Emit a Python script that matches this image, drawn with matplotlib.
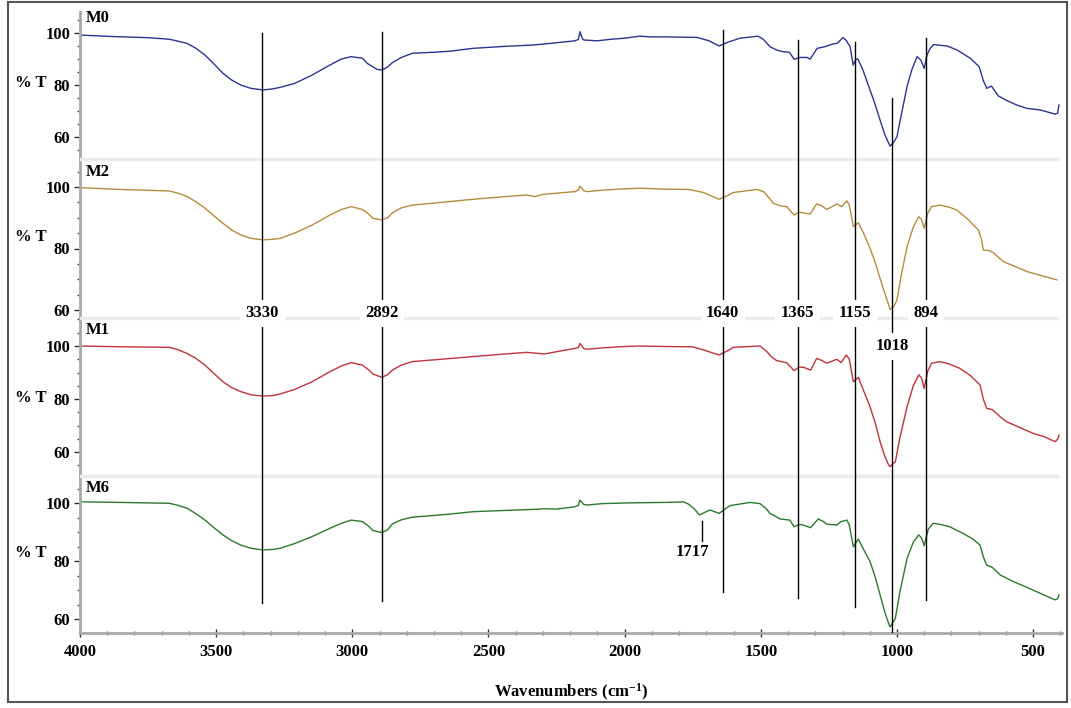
import matplotlib
matplotlib.use('Agg')
import matplotlib.pyplot as plt
from matplotlib.patches import Rectangle
from matplotlib.ticker import MultipleLocator

# ---------------- data ----------------
series_names = ['M0', 'M2', 'M1', 'M6']

wn_m0 = [4000, 3869, 3750, 3672, 3646, 3607, 3574, 3541, 3508, 3475, 3443, 3410, 3372, 3328,
         3292, 3265, 3212, 3148, 3082, 3040, 3004, 2963, 2945, 2909, 2891, 2872, 2853, 2820,
         2780, 2700, 2641, 2557, 2450, 2333, 2274, 2183, 2170, 2164, 2155, 2150, 2100, 2050,
         2000, 1944, 1907, 1850, 1800, 1734, 1690, 1653, 1620, 1576, 1510, 1490, 1466, 1440,
         1418, 1395, 1378, 1356, 1330, 1319, 1293, 1270, 1257, 1235, 1220, 1210, 1198, 1185,
         1180, 1172, 1161, 1150, 1143, 1125, 1110, 1085, 1062, 1045, 1030, 1025, 1012, 1000,
         985, 963, 945, 926, 912, 900, 890, 878, 865, 853, 816, 780, 731, 700, 695, 683, 670,
         653, 628, 596, 560, 522, 474, 419, 410, 405]
t_m0 = [99.2, 98.6, 98.2, 97.6, 97.0, 96.0, 94.1, 91.5, 88.1, 84.5, 81.9, 80.0, 78.7, 78.1,
        78.5, 79.1, 80.6, 83.8, 87.7, 90.0, 90.9, 90.3, 88.3, 86.0, 85.8, 86.8, 88.6, 90.6,
        92.2, 92.6, 93.0, 94.1, 94.8, 95.4, 96.0, 97.0, 97.5, 100.5, 97.8, 97.3, 97.0, 97.6,
        98.0, 98.8, 98.5, 98.5, 98.4, 98.3, 97.0, 95.0, 96.5, 98.0, 98.8, 97.5, 94.7, 93.4,
        92.8, 92.6, 89.9, 90.6, 90.6, 89.9, 94.1, 94.6, 95.0, 95.8, 96.0, 97.0, 98.3, 97.0,
        96.0, 94.8, 87.7, 90.0, 89.9, 85.8, 81.3, 74.0, 66.5, 61.0, 57.5, 56.5, 58.0, 60.1,
        68.0, 79.4, 86.0, 90.9, 89.5, 86.4, 91.5, 94.1, 95.6, 95.4, 95.0, 93.5, 90.3, 87.2,
        86.0, 81.7, 78.7, 79.6, 75.8, 74.0, 72.3, 71.0, 70.4, 68.8, 69.2, 72.3]

wn_m2 = [4000, 3850, 3672, 3640, 3607, 3574, 3541, 3508, 3475, 3443, 3410, 3372, 3328, 3292,
         3265, 3212, 3148, 3082, 3040, 3004, 2963, 2940, 2924, 2891, 2870, 2853, 2820, 2780,
         2650, 2557, 2450, 2360, 2330, 2300, 2183, 2170, 2164, 2150, 2138, 2080, 2000, 1944,
         1850, 1763, 1710, 1653, 1620, 1601, 1515, 1490, 1470, 1454, 1430, 1405, 1378, 1360,
         1344, 1319, 1295, 1275, 1258, 1240, 1221, 1203, 1184, 1175, 1160, 1142, 1120, 1099,
         1080, 1062, 1045, 1030, 1025, 1012, 1000, 985, 963, 940, 920, 910, 900, 887, 873, 843,
         810, 780, 740, 701, 690, 683, 660, 646, 609, 570, 523, 470, 413]
t_m2 = [99.8, 99.2, 98.7, 98.0, 96.9, 95.2, 93.1, 90.6, 88.2, 86.0, 84.4, 83.3, 82.8, 83.0,
        83.3, 85.0, 87.6, 90.9, 92.7, 93.6, 92.7, 91.2, 89.8, 89.3, 90.0, 91.6, 93.2, 94.1,
        95.2, 96.0, 96.8, 97.4, 96.9, 97.6, 98.5, 99.0, 100.3, 98.8, 98.5, 99.0, 99.4, 99.6,
        99.3, 99.2, 98.2, 96.0, 97.3, 98.2, 99.2, 98.5, 96.5, 94.7, 93.9, 93.6, 90.9, 91.8,
        91.6, 91.2, 94.5, 93.8, 92.7, 93.5, 94.5, 93.6, 95.5, 94.1, 87.1, 88.4, 84.5, 80.1,
        75.5, 70.3, 65.5, 61.5, 60.2, 61.0, 63.3, 71.0, 80.6, 87.0, 90.3, 89.5, 86.6, 91.5,
        93.6, 94.1, 93.5, 92.5, 89.5, 86.0, 83.0, 79.5, 79.3, 78.6, 75.7, 74.3, 72.5, 71.2,
        69.8]

wn_m1 = [4000, 3850, 3672, 3640, 3607, 3574, 3541, 3508, 3475, 3443, 3410, 3372, 3328, 3292,
         3265, 3212, 3148, 3082, 3040, 3004, 2963, 2940, 2924, 2891, 2870, 2853, 2820, 2780,
         2650, 2557, 2450, 2360, 2295, 2183, 2170, 2164, 2150, 2138, 2080, 2000, 1944, 1850,
         1751, 1710, 1653, 1620, 1601, 1503, 1478, 1460, 1442, 1420, 1405, 1378, 1360, 1344,
         1317, 1295, 1275, 1258, 1240, 1221, 1205, 1186, 1175, 1160, 1142, 1120, 1099, 1080,
         1062, 1045, 1030, 1025, 1015, 1006, 990, 963, 940, 920, 910, 900, 887, 873, 843, 810,
         770, 730, 695, 683, 671, 650, 621, 597, 550, 499, 460, 419, 410, 405]
t_m1 = [100.0, 99.7, 99.5, 98.6, 97.2, 95.3, 92.8, 89.6, 86.5, 84.3, 82.8, 81.6, 81.1, 81.3,
        81.9, 83.6, 86.5, 90.3, 92.5, 93.7, 92.8, 91.0, 89.4, 88.2, 89.2, 90.9, 92.8, 94.1,
        95.2, 96.0, 96.9, 97.6, 97.0, 99.1, 99.4, 101.0, 99.0, 98.8, 99.3, 99.8, 100.0, 99.8,
        99.7, 98.5, 96.6, 98.3, 99.5, 100.0, 97.9, 95.8, 94.5, 94.0, 93.7, 90.7, 92.0, 92.0,
        90.9, 95.3, 94.5, 93.5, 94.2, 95.0, 93.7, 96.6, 95.0, 86.5, 88.2, 82.5, 77.1, 71.0,
        63.9, 58.5, 55.0, 54.5, 55.5, 56.3, 65.0, 77.1, 85.0, 89.1, 88.0, 84.0, 90.5, 93.5,
        94.1, 93.3, 91.6, 88.8, 85.3, 80.0, 76.5, 76.0, 73.3, 71.4, 69.3, 67.0, 65.8, 63.9,
        64.8, 66.4]

wn_m6 = [4000, 3850, 3672, 3640, 3607, 3574, 3541, 3508, 3475, 3443, 3410, 3372, 3328, 3292,
         3265, 3212, 3148, 3082, 3040, 3004, 2963, 2940, 2924, 2891, 2870, 2853, 2820, 2780,
         2650, 2557, 2450, 2333, 2295, 2250, 2183, 2170, 2164, 2150, 2138, 2080, 2000, 1944,
         1850, 1784, 1765, 1747, 1725, 1705, 1686, 1653, 1630, 1613, 1540, 1503, 1480, 1466,
         1429, 1393, 1378, 1360, 1344, 1317, 1289, 1270, 1258, 1221, 1205, 1184, 1175, 1160,
         1142, 1120, 1099, 1080, 1062, 1045, 1030, 1025, 1015, 1006, 990, 963, 940, 920, 910,
         900, 885, 867, 840, 806, 757, 720, 695, 683, 671, 650, 621, 573, 520, 475, 419, 410,
         405]
t_m6 = [100.4, 100.2, 99.9, 99.2, 98.2, 96.3, 94.1, 91.5, 89.0, 87.0, 85.5, 84.4, 83.8, 84.0,
        84.4, 86.0, 88.4, 91.3, 93.0, 94.1, 93.6, 92.0, 90.5, 89.8, 90.8, 92.8, 94.2, 95.1,
        96.1, 97.0, 97.4, 97.8, 98.0, 97.9, 98.7, 99.2, 101.0, 99.5, 99.3, 99.8, 100.0, 100.1,
        100.2, 100.4, 99.6, 98.2, 95.9, 96.8, 97.6, 96.4, 98.0, 99.1, 100.2, 99.8, 98.0, 96.4,
        94.5, 94.1, 91.8, 92.6, 92.4, 91.5, 94.5, 93.6, 92.7, 92.4, 93.6, 94.1, 92.4, 84.9,
        87.6, 83.5, 79.8, 74.5, 68.3, 62.5, 58.3, 57.3, 58.8, 60.2, 69.0, 80.9, 86.5, 89.0,
        88.0, 85.3, 91.0, 93.0, 92.6, 91.8, 89.5, 87.5, 85.5, 81.5, 78.6, 77.8, 75.2, 72.9,
        70.8, 68.9, 66.6, 67.0, 68.3]

peak_wn = [3330, 2892, 1640, 1365, 1155, 1018, 894]
peak_labels = ['3330', '2892', '1640', '1365', '1155', '1018', '894']
extra_peak_wn = 1717
extra_peak_label = '1717'

x_ticks = [4000, 3500, 3000, 2500, 2000, 1500, 1000, 500]
y_ticks = [60, 80, 100]

# ---------------- style / layout ----------------
plt.rcParams['font.family'] = ['Liberation Serif', 'DejaVu Serif']
plt.rcParams['font.weight'] = 'bold'
plt.rcParams['mathtext.fontset'] = 'custom'
plt.rcParams['mathtext.rm'] = 'Liberation Serif:bold'
plt.rcParams['mathtext.bf'] = 'Liberation Serif:bold'
plt.rcParams['mathtext.it'] = 'Liberation Serif:bold'

W, H = 1071, 708
fig = plt.figure(figsize=(W / 100, H / 100), dpi=100)
fig.patch.set_facecolor('white')

X0, X1 = 80, 1062
XLIM = (4000, 394)
FS = 12

colors = ['#2b3492', '#b48c3c', '#c0323c', '#2b7a2b']
data = [(wn_m0, t_m0), (wn_m2, t_m2), (wn_m1, t_m1), (wn_m6, t_m6)]
# (top px, bottom px, px of 100 tick, px per %T unit, "% T" label y, name label y)
layout = [(12, 159, 33, 2.6, 83, 18),
          (159, 318, 187, 3.075, 237, 172),
          (318, 476, 346, 2.65, 398, 330),
          (476, 633, 503, 2.9, 553, 488)]

spine_col = '#a8a8a8'
axes = []
for i, ((wn, tt), col, (yt, yb, y100, ppu, pty, nly)) in enumerate(zip(data, colors, layout)):
    ax = fig.add_axes([X0 / W, 1 - yb / H, (X1 - X0) / W, (yb - yt) / H])
    ax.plot(wn, tt, color=col, lw=1.0)
    ax.set_xlim(*XLIM)
    ax.set_ylim(100 - (yb - y100) / ppu, 100 + (y100 - yt) / ppu)
    ax.set_yticks(y_ticks)
    ax.set_yticklabels([str(v) for v in y_ticks], fontsize=FS, fontweight='bold')
    ax.yaxis.set_minor_locator(MultipleLocator(5))
    ax.tick_params(axis='y', which='major', length=4, width=1, color='#303030', pad=3)
    ax.tick_params(axis='y', which='minor', length=2, width=1, color='#505050')
    for s in ['top', 'right']:
        ax.spines[s].set_visible(False)
    ax.spines['left'].set_color(spine_col)
    ax.spines['left'].set_linewidth(2)
    if i < 3:
        ax.spines['bottom'].set_visible(False)
        ax.tick_params(axis='x', which='both', bottom=False, labelbottom=False)
    else:
        ax.spines['bottom'].set_color(spine_col)
        ax.spines['bottom'].set_linewidth(2)
        ax.set_xticks(x_ticks)
        ax.set_xticklabels([str(v) for v in x_ticks], fontsize=FS, fontweight='bold')
        ax.xaxis.set_minor_locator(MultipleLocator(100))
        ax.tick_params(axis='x', which='major', direction='inout', length=6, width=1,
                       color='#303030', pad=5)
        ax.tick_params(axis='x', which='minor', direction='inout', length=3, width=1,
                       color='#505050')
        ax.set_xlabel('Wavenumbers (cm$^{-1}$)', fontsize=FS, fontweight='bold', labelpad=16)
    fig.text(31 / W, 1 - pty / H, '% T', ha='center', va='center', fontsize=FS,
             fontweight='bold')
    fig.text(86 / W, 1 - nly / H, series_names[i], ha='left', va='center', fontsize=FS,
             fontweight='bold')
    axes.append(ax)

# overlay for marker lines (x in wavenumbers, y in pixel rows)
ov = fig.add_axes([X0 / W, 1 - 633 / H, (X1 - X0) / W, (633 - 12) / H], zorder=5)
ov.set_xlim(*XLIM)
ov.set_ylim(633, 12)
ov.patch.set_alpha(0)
ov.axis('off')

# panel separators
for (yt, yb, *_r) in layout[:3]:
    ov.axhline(yb, xmin=0.0, xmax=0.995, color='#ebebeb', lw=2.5, zorder=1)

line_spans = [(33, 603), (32, 601), (30, 592), (40, 598), (42, 607), (98, 633), (38, 600)]
label_rows = [313, 313, 313, 313, 313, 346, 313]
for w, lab, (y0, y1), ly in zip(peak_wn, peak_labels, line_spans, label_rows):
    ov.plot([w, w], [y0, y1], color='black', lw=1.0, zorder=3)
    ov.text(w, ly, lab, ha='center', va='center', fontsize=FS, fontweight='bold', zorder=4,
            bbox=dict(facecolor='white', edgecolor='none', pad=4))

ov.plot([extra_peak_wn, extra_peak_wn], [521, 541], color='black', lw=1.0, zorder=3)
ov.text(extra_peak_wn + 33, 552, extra_peak_label, ha='center', va='center', fontsize=FS,
        fontweight='bold', zorder=4)

# outer frame
fig.patches.append(Rectangle((8 / W, 1 - 702 / H), (1067 - 8) / W, (702 - 2) / H,
                             transform=fig.transFigure, fill=False, edgecolor='#555555',
                             lw=1.5))

fig.savefig('out.png', dpi=100)
